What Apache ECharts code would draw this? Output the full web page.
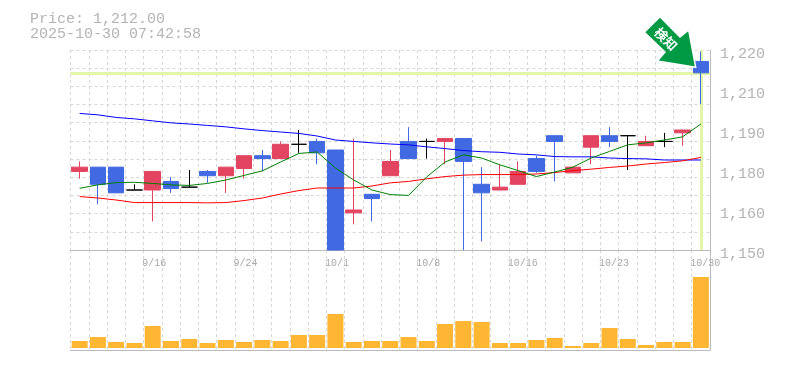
<!DOCTYPE html>
<html><head><meta charset="utf-8">
<style>html,body{margin:0;padding:0;background:#fff}#c{width:785px;height:370px}</style>
<script src="https://cdn.jsdelivr.net/npm/echarts@6/dist/echarts.min.js"></script></head>
<body><div id="c"></div>
<script>
const categories=['9/9','9/10','9/11','9/12','9/16','9/17','9/18','9/19','9/22','9/24','9/25','9/26','9/29','9/30','10/1','10/2','10/3','10/6','10/7','10/8','10/9','10/10','10/14','10/15','10/16','10/17','10/20','10/21','10/22','10/23','10/24','10/27','10/28','10/29','10/30'];
const shownDates=['9/16','9/24','10/1','10/8','10/16','10/23','10/30'];
// open, close, low, high
const candles=[[1177.5,1179,1175,1181],[1179,1173,1166,1179],[1179,1170,1170,1179],[1171,1171,1171,1173],[1171,1177.5,1160,1177.5],[1174,1171.5,1170,1175.5],[1172,1172,1172,1178],[1177.5,1176,1173.5,1178],[1176,1179,1170,1179],[1178.5,1183,1175,1183],[1183,1182,1177.5,1185],[1182,1187,1182,1188],[1187,1187,1184,1192],[1188,1184,1180,1189],[1185,1150,1150,1185],[1163,1164,1159,1189],[1169.5,1168,1160,1169.5],[1176,1181,1176,1185],[1188,1182,1182,1193],[1188,1188,1182,1189],[1188,1189,1180,1189],[1189,1181,1150,1189],[1173,1170,1153,1179],[1171,1172,1171,1180],[1173,1177.5,1173,1181],[1182,1177.5,1177,1183],[1190,1188,1174,1190],[1177,1179,1177,1179],[1186,1190,1180,1190],[1190,1188,1186,1193],[1190,1190,1178,1190],[1186.5,1188,1186.5,1190],[1188,1188,1186,1191],[1191,1192,1186.5,1192],[1216,1212,1201,1219.5]];
const maLong=[1197.8,1197.3,1196.4,1195.9,1195.2,1194.5,1194.1,1193.6,1193.1,1192.4,1191.8,1191.3,1190.8,1189.9,1188.5,1188,1187.5,1187.1,1186.8,1186.1,1185.5,1184.8,1184.4,1184.2,1183.6,1183.3,1182.7,1182.6,1182.6,1182.2,1182,1181.9,1181.5,1181.5,1181.5];
const maMid=[1168.7,1168.2,1167.5,1166.6,1166.6,1166.6,1166.6,1166.5,1166.6,1167.3,1168.2,1169.6,1170.8,1171.7,1171.7,1171.7,1172.4,1173.5,1174,1174.9,1175.7,1176.2,1176.4,1176.4,1176.4,1176.6,1177.1,1177.8,1178.3,1178.9,1179.4,1180.1,1180.6,1181.2,1182.4];
const maShort=[1171.6,1172.8,1173.6,1173.7,1173.3,1172.8,1172.6,1173.3,1174.5,1176.1,1177.7,1180.8,1183.8,1184.3,1178.7,1174.5,1171,1169.4,1169.1,1175.6,1180.8,1183.3,1182.2,1179.8,1177.8,1175.7,1177.3,1179,1182.2,1184.5,1186.8,1187.5,1188.5,1189.6,1194.1];
const volumes=[7,11,6,5,22,7,9,5,8,6,8,7,13,13,34,6,7,7,11,7,24,27,26,5,5,8,10,2,5,20,9,3,6,6,71];
const priceTicks=[1150,1164,1178,1192,1206,1220];
const priceTickLabels=['1,150','1,160','1,180','1,190','1,210','1,220'];
const lastPrice=1212;
const titleLines=['Price: 1,212.00','2025-10-30 07:42:58'];
const FONT='"Liberation Mono",monospace', GRAY='#b4b4b4', AXIS='#bbbbbb', GRID='#d6d6d6';
const dash={color:GRID,type:[3,3],width:1};
const chart=echarts.init(document.getElementById('c'),null,{renderer:'canvas'});
chart.setOption({
 animation:false,
 title:{text:titleLines.join('\n'),left:25,top:7,textStyle:{fontFamily:FONT,fontSize:15,fontWeight:'normal',color:GRAY,lineHeight:15}},
 grid:[{left:70.5,top:50,width:639.5,height:200},{left:70.5,top:250,width:639.5,height:100},{left:60,top:250,width:639.5,height:100}],
 xAxis:[
  {type:'category',gridIndex:0,data:categories,boundaryGap:true,axisLine:{show:true,onZero:false,lineStyle:{color:AXIS}},axisTick:{show:false},axisLabel:{show:false},splitLine:{show:true,interval:0,lineStyle:dash}},
  {type:'category',gridIndex:1,data:categories,boundaryGap:true,axisLine:{show:true,onZero:false,lineStyle:{color:AXIS}},axisTick:{show:false},axisLabel:{show:false},splitLine:{show:true,interval:0,lineStyle:dash}},
  {type:'category',gridIndex:2,position:'top',data:categories,boundaryGap:true,axisLine:{show:false},axisTick:{show:false},splitLine:{show:false},
   axisLabel:{show:true,inside:true,margin:8,align:'left',verticalAlign:'top',alignMinLabel:'left',alignMaxLabel:'left',hideOverlap:false,fontFamily:FONT,fontSize:10,color:'#a8a8a8',interval:(i,v)=>shownDates.includes(v)}}
 ],
 yAxis:[
  {type:'value',gridIndex:0,position:'right',min:1150,max:1220,axisLine:{show:true,lineStyle:{color:AXIS}},axisTick:{show:false},splitLine:{show:false},
   axisLabel:{show:true,customValues:priceTicks,margin:10,fontFamily:FONT,fontSize:15,color:GRAY,verticalAlign:'top',lineHeight:8,formatter:v=>priceTickLabels[priceTicks.indexOf(v)]}},
  {type:'value',gridIndex:0,position:'left',min:0,max:11,interval:1,axisLine:{show:false},axisTick:{show:false},axisLabel:{show:false},splitLine:{show:true,lineStyle:dash}},
  {type:'value',gridIndex:1,position:'right',min:-2,max:98,axisLine:{show:true,lineStyle:{color:AXIS}},axisTick:{show:false},axisLabel:{show:false},splitLine:{show:false}},
  {type:'value',gridIndex:2,min:0,max:1,show:false}
 ],
 series:[
  {type:'candlestick',name:'price',xAxisIndex:0,yAxisIndex:0,data:candles,barWidth:16,z:3,
   itemStyle:{color:'#e34460',borderColor:'#e34460',color0:'#4169e1',borderColor0:'#4169e1',borderColorDoji:'#000000',borderWidth:1},
   markLine:{silent:true,symbol:'none',z:1,label:{show:false},lineStyle:{color:'#e3f5a9',width:3,type:'solid'},
    data:[{yAxis:lastPrice},{xAxis:categories[categories.length-1]}]}},
  {type:'line',name:'maLong',xAxisIndex:0,yAxisIndex:0,data:maLong,showSymbol:false,z:4,lineStyle:{color:'#0000ff',width:1}},
  {type:'line',name:'maMid',xAxisIndex:0,yAxisIndex:0,data:maMid,showSymbol:false,z:4,lineStyle:{color:'#ff0000',width:1}},
  {type:'line',name:'maShort',xAxisIndex:0,yAxisIndex:0,data:maShort,showSymbol:false,z:4,lineStyle:{color:'#008000',width:1}},
  {type:'bar',name:'volume',xAxisIndex:1,yAxisIndex:2,data:volumes,barWidth:16,z:3,itemStyle:{color:'#ffb733'}},
  {type:'line',name:'labels',xAxisIndex:2,yAxisIndex:3,data:[],showSymbol:false}
 ],
 graphic:[{type:'polygon',z:100,shape:{points:[[660,16.7],[680,37],[688.7,30],[695.7,67.3],[657.3,61],[665,52],[644.3,32.3]]},style:{fill:'#009944',stroke:'#fff',lineWidth:1.5}},
  {type:'text',z:101,x:666,y:39,rotation:-Math.PI/4,style:{text:'検知',fill:'#fff',font:'bold 13px "Noto Sans CJK JP"',align:'center',verticalAlign:'middle'}}]
});
</script></body></html>
